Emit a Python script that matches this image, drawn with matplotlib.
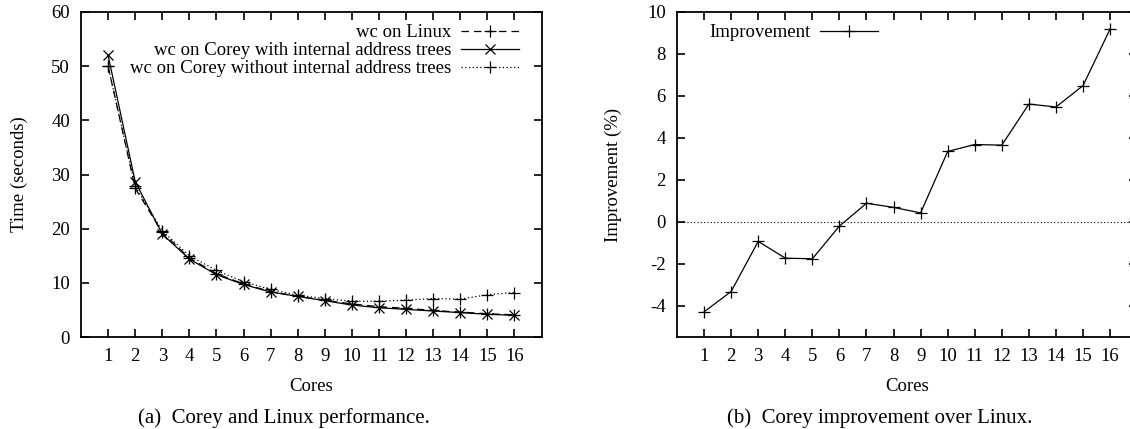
import matplotlib
matplotlib.use("Agg")
import matplotlib.pyplot as plt

plt.rcParams['font.family'] = ['Liberation Serif', 'DejaVu Serif']
plt.rcParams['font.size'] = 13.5

cores = list(range(1, 17))
linux = [50.0, 27.5, 19.3, 14.6, 11.7, 9.8, 8.4, 7.5, 6.8, 6.1, 5.6, 5.3, 4.9, 4.6, 4.3, 4.1]
corey_with = [52.0, 28.7, 19.0, 14.4, 11.5, 9.7, 8.3, 7.5, 6.7, 5.9, 5.4, 5.1, 4.8, 4.5, 4.2, 4.0]
corey_without = [50.0, 27.8, 19.6, 15.0, 12.3, 10.2, 8.8, 7.7, 7.1, 6.6, 6.6, 6.8, 7.1, 7.0, 7.8, 8.2]
improvement = [-4.30, -3.33, -0.94, -1.74, -1.77, -0.21, 0.88, 0.68, 0.42, 3.35, 3.68, 3.65, 5.61, 5.47, 6.49, 9.19]

W, H = 1130, 429
fig = plt.figure(figsize=(W / 100, H / 100), dpi=100)

def frac(x0, y0, x1, y1):
    return [x0 / W, (H - y1) / H, (x1 - x0) / W, (y1 - y0) / H]

def style(ax):
    for s in ax.spines.values():
        s.set_linewidth(1.3)
    ax.tick_params(direction='in', length=6, width=1.2, top=True, right=True, pad=8,
                   labelsize=13.5)
    ax.set_xticks(cores)
    ax.set_xlim(0, 17)

ax1 = fig.add_axes(frac(81, 12, 541.5, 337))
ax1.plot(cores, linux, color='black', lw=0.9, ls=(0, (6, 4)), marker='+', ms=9, mew=0.9,
         label='wc on Linux')
ax1.plot(cores, corey_with, color='black', lw=0.9, ls='-', marker='x', ms=7, mew=0.9,
         label='wc on Corey with internal address trees')
ax1.plot(cores, corey_without, color='black', lw=0.9, ls=(0, (1, 2)), marker='+', ms=9, mew=0.9,
         label='wc on Corey without internal address trees')
ax1.set_ylim(0, 60)
ax1.set_yticks([0, 10, 20, 30, 40, 50, 60])
style(ax1)
ax1.set_xlabel('Cores', labelpad=9)
ax1.set_ylabel('Time (seconds)', labelpad=17)
ax1.legend(loc='upper right', frameon=False, markerfirst=False, handlelength=3.1,
           labelspacing=0.05, borderaxespad=0.4, handletextpad=0.5, fontsize=13.5,
           bbox_to_anchor=(0.983, 1.009))

ax2 = fig.add_axes(frac(677, 12, 677 + 17 * 27.07, 337))
ax2.axhline(0, color='black', lw=0.8, ls=(0, (1, 2)))
ax2.plot(cores, improvement, color='black', lw=0.9, marker='+', ms=9, mew=0.9,
         label='Improvement')
ax2.set_ylim(-5.5, 10)
ax2.set_yticks([-4, -2, 0, 2, 4, 6, 8, 10])
ax2.set_yticklabels(['-4', '-2', '0', '2', '4', '6', '8', '10'])
style(ax2)
ax2.set_xlabel('Cores', labelpad=9)
ax2.set_ylabel('Improvement (%)', labelpad=18)
ax2.legend(loc='upper left', frameon=False, markerfirst=False, handlelength=3.1,
           borderaxespad=0.4, handletextpad=0.5, fontsize=13.5, bbox_to_anchor=(0.037, 1.009))

fig.text(284 / W, 1 - 418 / H, '(a)  Corey and Linux performance.', ha='center', va='center', fontsize=15)
fig.text(880 / W, 1 - 418 / H, '(b)  Corey improvement over Linux.', ha='center', va='center', fontsize=15)

fig.savefig('out.png', dpi=100)
